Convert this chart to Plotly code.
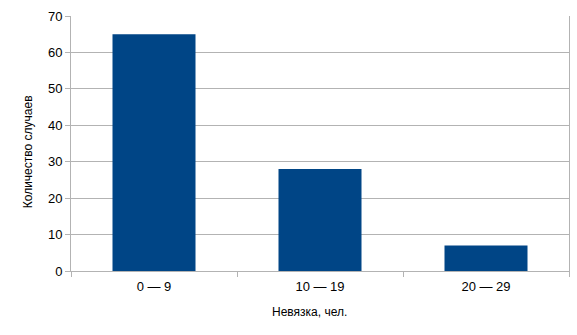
import plotly.graph_objects as go

categories = ["0 — 9", "10 — 19", "20 — 29"]
values = [65, 28, 7]
y_ticks = [0, 10, 20, 30, 40, 50, 60, 70]

fig = go.Figure()
fig.add_trace(go.Bar(x=categories, y=values, marker=dict(color="#004586", line=dict(width=0))))

fig.update_layout(
    width=577, height=335,
    margin=dict(l=71, r=8, t=15.5, b=64),
    paper_bgcolor="white", plot_bgcolor="white",
    bargap=0.5, showlegend=False,
    font=dict(family="Liberation Sans, Arial, sans-serif", size=13, color="#000000"),
    xaxis=dict(
        type="category", tickson="boundaries", ticks="outside", ticklen=5,
        tickcolor="#b3b3b3", tickwidth=1, showline=True, linecolor="#b3b3b3",
        linewidth=1, showgrid=False, tickfont=dict(size=13), ticklabelstandoff=3,
    ),
    yaxis=dict(
        range=[0, 70], tickvals=y_ticks, ticks="outside", ticklen=5,
        tickcolor="#b3b3b3", showline=True, mirror=True, linecolor="#b3b3b3",
        gridcolor="#b3b3b3", gridwidth=1, zeroline=False, tickfont=dict(size=13),
    ),
    annotations=[
        dict(text="Невязка, чел.", x=309, y=312, xref="paper", yref="paper",
             showarrow=False, font=dict(size=12)),
        dict(text="Количество случаев", x=28, y=152, textangle=-90,
             showarrow=False, font=dict(size=12)),
    ],
)
# convert pixel annotations to paper coordinates
pw, ph = 577 - 71 - 8, 335 - 15.5 - 64
anns = []
for a in fig.layout.annotations:
    px, py = a.x, a.y
    a.x = (px - 71) / pw
    a.y = 1 - (py - 15.5) / ph
    a.xref = "paper"; a.yref = "paper"
    a.xanchor = "center"; a.yanchor = "middle"
    anns.append(a)
fig.layout.annotations = anns

fig.write_html("out.html")
